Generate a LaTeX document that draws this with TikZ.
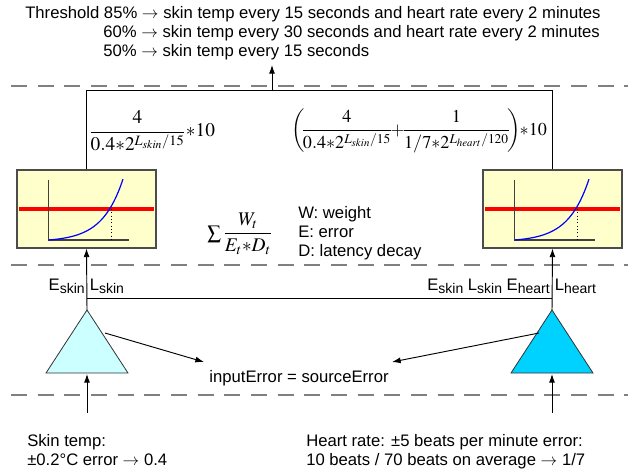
\documentclass[tikz,border=0pt]{standalone}
\usepackage{mathptmx}
\usepackage[no-math]{fontspec}
\setmainfont{Liberation Sans}
\usetikzlibrary{arrows.meta}
\definecolor{boxfill}{RGB}{255,255,204}
\definecolor{lcyan}{RGB}{204,255,255}
\definecolor{dcyan}{RGB}{0,210,255}
\newcommand{\sbs}[1]{\raisebox{-0.4ex}{\fontsize{10.5}{12}\selectfont #1}}
\begin{document}
\begin{tikzpicture}[x=0.75pt,y=-0.75pt,
  dashsep/.style={draw=black!50, line width=1.1pt, dash pattern=on 12pt off 8pt},
  wire/.style={draw=black, line width=0.7pt},
  arr/.style={wire, -{Latex[length=6.5pt,width=4.5pt]}},
  chartbox/.style={draw=black!70, fill=boxfill, line width=0.8pt, minimum width=104.25pt, minimum height=58.5pt, inner sep=0pt},
  txt/.style={font=\fontsize{12.5}{14.25}\selectfont, inner sep=0pt},
  mth/.style={font=\fontsize{14.5}{17}\selectfont, inner sep=0pt},
  mths/.style={font=\fontsize{13.6}{17}\selectfont, inner sep=0pt},
  tri/.style={draw=black!80, line width=0.6pt}]
\useasboundingbox (0,0) rectangle (641,472);

% separators
\draw[dashsep] (11,86) -- (628,86);
\draw[dashsep] (11,265) -- (628,265);
\draw[dashsep] (11,395) -- (628,395);

% top texts
\node[txt, anchor=base west] (thr1) at (25,18) {Threshold 85\% $\rightarrow$ skin temp every 15 seconds and heart rate every 2 minutes};
\node[txt, anchor=base west] (thr2) at (103,37) {60\% $\rightarrow$ skin temp every 30 seconds and heart rate every 2 minutes};
\node[txt, anchor=base west] (thr3) at (103,56) {50\% $\rightarrow$ skin temp every 15 seconds};

% chart boxes
\node[chartbox] (lbox) at (86.5,209) {};
\node[chartbox] (rbox) at (552.5,209) {};
\foreach \dx in {0,466}{
  \begin{scope}[shift={(\dx,0)}]
    \draw[red, line width=3pt] (19,209) -- (154,209);
    \draw[black!75, line width=0.8pt] (48.7,180) -- (48.7,240) -- (129,240);
    \draw[black, line width=0.5pt, dotted] (111.3,209) -- (111.3,240);
    \draw[blue, line width=0.9pt, domain=0:1, samples=50, smooth] plot ({48.7+74.3*\x},{240-61*(exp(3.6*\x)-1)/(exp(3.6)-1)});
  \end{scope}
}

% top connector
\draw[wire] (lbox.north) -- ++(0,-79) -| (rbox.north);
\coordinate (tj) at (272,91);
\coordinate (tarr) at (272,65);
\draw[arr] (tj) -- (tarr);

% formulas
\node[mth] (f1) at (152,131) {$\displaystyle\frac{4}{0.4{*}2^{L_{skin}/15}}{*}10$};
\node[mths] (f2) at (419,131) {$\displaystyle\left(\mkern-3mu\frac{4}{0.4{*}2^{L_{skin}/15}}\mkern-2mu{+}\mkern-2mu\frac{1}{1/7{*}2^{L_{heart}/120}}\mkern-3mu\right)\mkern-3mu{*}10$};
\node[mth] (fsum) at (240,234) {$\textstyle\sum\displaystyle\frac{W_t}{E_t{*}D_t}$};
\node[txt, anchor=base west, align=left] (legend) at (298,256) {W: weight\\E: error\\D: latency decay};

% triangles
\coordinate (lapex) at (87,310);
\coordinate (rapex) at (552,310);
\draw[tri, fill=lcyan] (lapex) -- (128,373) -- (46,373) -- cycle;
\draw[tri, fill=dcyan] (rapex) -- (593,373) -- (511,373) -- cycle;
\draw[arr] (lapex) -- (lbox.south);
\draw[arr] (rapex) -- (rbox.south);
\coordinate (lmid) at (87,298);
\coordinate (rmid) at (552,298);
\draw[wire] (lmid) -- (rmid);

% labels
\node[txt, anchor=base east] (le) at (85,290) {E\sbs{skin}};
\node[txt, anchor=base west] (ls) at (89.5,290) {L\sbs{skin}};
\node[txt, anchor=base east] (re) at (550,290) {E\sbs{skin} L\sbs{skin} E\sbs{heart}};
\node[txt, anchor=base west] (rs) at (554.5,290) {L\sbs{heart}};

% input error
\node[txt, anchor=base] (ierr) at (299,382) {inputError = sourceError};
\coordinate (la1) at (105,333);
\coordinate (la2) at (204,362);
\coordinate (ra1) at (539,333);
\coordinate (ra2) at (392,362);
\draw[arr] (la1) -- (la2);
\draw[arr] (ra1) -- (ra2);

% bottom
\coordinate (lb) at (87,413);
\coordinate (lbt) at (87,374);
\coordinate (rb) at (552,413);
\coordinate (rbt) at (552,374);
\draw[arr] (lb) -- (lbt);
\draw[arr] (rb) -- (rbt);
\node[txt, anchor=base west, align=left] (skin) at (27,465) {Skin temp:\\±0.2°C error $\rightarrow$ 0.4};
\node[txt, anchor=base west, align=left] (heart) at (306,465) {Heart rate: ±5 beats per minute error:\\10 beats / 70 beats on average $\rightarrow$ 1/7};
\end{tikzpicture}
\end{document}
